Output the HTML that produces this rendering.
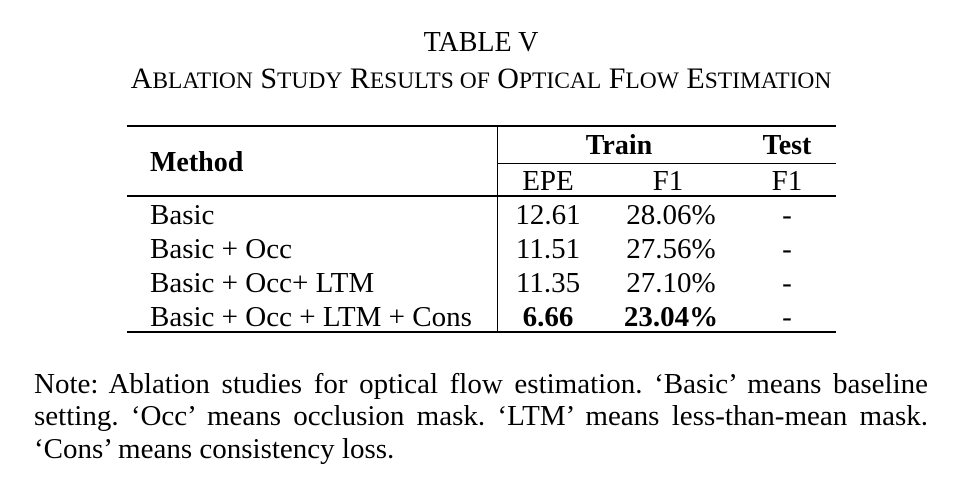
<!DOCTYPE html>
<html><head><meta charset="utf-8"><style>
body{margin:0;width:960px;height:499px;background:#fff;position:relative;overflow:hidden;font-family:"Liberation Serif",serif;color:#000}
.t{position:absolute;white-space:nowrap;line-height:1}
.c{transform:translateX(-50%)}
.h{position:absolute;background:#000}
.b{font-weight:bold}
.r{font-size:29px}
.nl{position:absolute;left:34px;width:894px;font-size:29px;line-height:33px;white-space:nowrap}
.j{text-align:justify;text-align-last:justify}
</style></head><body>
<div class="t c" style="left:481px;top:29px;font-size:28px">TABLE V</div>
<div class="t c" style="left:481px;top:64px;font-size:30px">A<span style="font-size:23.5px">BLATION</span> S<span style="font-size:23.5px">TUDY</span> R<span style="font-size:23.5px">ESULTS OF</span> O<span style="font-size:23.5px">PTICAL</span> F<span style="font-size:23.5px">LOW</span> E<span style="font-size:23.5px">STIMATION</span></div>

<div class="h" style="left:127px;top:125px;width:709px;height:2px"></div>
<div class="h" style="left:497px;top:163px;width:339px;height:1px"></div>
<div class="h" style="left:127px;top:195px;width:709px;height:2px"></div>
<div class="h" style="left:127px;top:331px;width:709px;height:2px"></div>
<div class="h" style="left:497px;top:125px;width:1px;height:208px"></div>

<div class="t b" style="left:150px;top:149px;font-size:28px">Method</div>
<div class="t b c" style="left:619px;top:132px;font-size:28px">Train</div>
<div class="t b c" style="left:787px;top:132px;font-size:28px">Test</div>
<div class="t c r" style="left:548px;top:167px">EPE</div>
<div class="t c r" style="left:668px;top:167px">F1</div>
<div class="t c r" style="left:787px;top:167px">F1</div>

<div class="t r" style="left:150px;top:201px">Basic</div>
<div class="t c r" style="left:548px;top:201px">12.61</div>
<div class="t c r" style="left:671px;top:201px">28.06%</div>
<div class="t c r" style="left:787px;top:201px">-</div>

<div class="t r" style="left:150px;top:235px">Basic + Occ</div>
<div class="t c r" style="left:548px;top:235px">11.51</div>
<div class="t c r" style="left:671px;top:235px">27.56%</div>
<div class="t c r" style="left:787px;top:235px">-</div>

<div class="t r" style="left:150px;top:269px">Basic + Occ+ LTM</div>
<div class="t c r" style="left:548px;top:269px">11.35</div>
<div class="t c r" style="left:671px;top:269px">27.10%</div>
<div class="t c r" style="left:787px;top:269px">-</div>

<div class="t r" style="left:150px;top:303px">Basic + Occ + LTM + Cons</div>
<div class="t c r b" style="left:548px;top:303px">6.66</div>
<div class="t c r b" style="left:671px;top:303px">23.04%</div>
<div class="t c r" style="left:787px;top:303px">-</div>

<div>
<div class="nl j" style="top:368px">Note: Ablation studies for optical flow estimation. ‘Basic’ means baseline</div>
<div class="nl j" style="top:400px">setting. ‘Occ’ means occlusion mask. ‘LTM’ means less-than-mean mask.</div>
<div class="nl" style="top:433px">‘Cons’ means consistency loss.</div>
</div>
</body></html>
